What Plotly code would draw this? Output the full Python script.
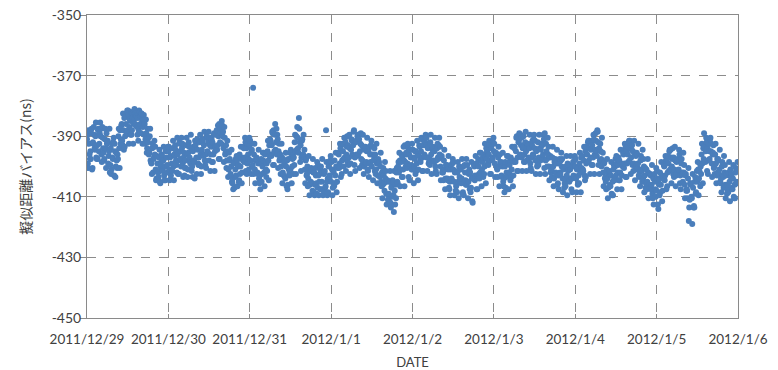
import pandas as pd
import plotly.graph_objects as go

# Pseudo-range bias (ns): two interleaved 15-minute sample streams per day
# ("_a" on the quarter hour, "_b" offset by 7.5 minutes)
bias_1229_a = [
    -391, -399, -388, -396, -395, -389, -401, -392, -387, -394, -390, -397,
    -393, -388, -395, -389, -390, -396, -387, -394, -398, -391, -394, -389,
    -392, -399, -395, -402, -394, -401, -397, -392, -403, -395, -400, -398,
    -396, -390, -394, -388, -391, -386, -393, -388, -384, -390, -386, -389,
    -388, -383, -387, -385, -382, -388, -384, -386, -381, -386, -383, -387,
    -384, -388, -382, -386, -389, -385, -387, -383, -386, -391, -389, -394,
    -392, -396, -390, -398, -399, -394, -402, -397, -396, -401, -404, -399,
    -402, -397, -405, -400, -396, -401, -398, -403, -400, -395, -397, -402,
]
bias_1229_b = [
    -389.5, -400.5, -392.5, -397.5, -397.5, -387.5, -400.5, -392.5, -389.5, -394.5, -385.5, -397.5,
    -397.5, -387.5, -392.5, -385.5, -387.5, -398.5, -390.5, -395.5, -397.5, -387.5, -400.5, -392.5,
    -391.5, -396.5, -387.5, -399.5, -402.5, -392.5, -397.5, -390.5, -392.5, -403.5, -395.5, -400.5,
    -397.5, -387.5, -400.5, -392.5, -386.5, -391.5, -382.5, -394.5, -393.5, -383.5, -388.5, -381.5,
    -381.5, -392.5, -384.5, -389.5, -389.5, -382.5, -392.5, -384.5, -382.5, -386.5, -383.5, -389.5,
    -391.5, -381.5, -386.5, -383.5, -382.5, -392.5, -384.5, -389.5, -392.5, -384.5, -395.5, -387.5,
    -390.5, -395.5, -387.5, -398.5, -402.5, -392.5, -397.5, -391.5, -393.5, -404.5, -396.5, -401.5,
    -403.5, -394.5, -405.5, -398.5, -396.5, -401.5, -393.5, -404.5, -404.5, -394.5, -399.5, -393.5,
]
bias_1230_a = [
    -395, -401, -397, -403, -399, -394, -400, -396, -393, -398, -402, -396,
    -398, -392, -395, -400, -394, -399, -397, -403, -398, -393, -396, -401,
    -392, -397, -399, -394, -400, -395, -398, -404, -393, -397, -391, -399,
    -397, -392, -396, -400, -391, -396, -393, -398, -396, -390, -395, -392,
    -398, -393, -396, -391, -392, -396, -389, -395, -394, -388, -393, -390,
    -386, -392, -389, -385, -390, -394, -387, -396, -393, -398, -395, -401,
    -398, -403, -400, -405, -404, -399, -407, -401, -403, -398, -400, -405,
    -396, -400, -397, -402, -398, -394, -397, -392, -394, -399, -396, -401,
]
bias_1230_b = [
    -393.5, -404.5, -396.5, -401.5, -401.5, -391.5, -404.5, -396.5, -394.5, -399.5, -390.5, -402.5,
    -402.5, -392.5, -397.5, -390.5, -392.5, -403.5, -395.5, -400.5, -400.5, -390.5, -403.5, -395.5,
    -393.5, -398.5, -389.5, -401.5, -403.5, -393.5, -398.5, -391.5, -391.5, -402.5, -394.5, -399.5,
    -399.5, -389.5, -402.5, -394.5, -391.5, -396.5, -388.5, -399.5, -400.5, -390.5, -395.5, -388.5,
    -390.5, -401.5, -393.5, -398.5, -398.5, -389.5, -401.5, -393.5, -389.5, -394.5, -386.5, -397.5,
    -397.5, -387.5, -392.5, -386.5, -388.5, -398.5, -390.5, -395.5, -400.5, -391.5, -403.5, -395.5,
    -397.5, -402.5, -394.5, -405.5, -407.5, -398.5, -403.5, -397.5, -396.5, -406.5, -399.5, -404.5,
    -402.5, -393.5, -405.5, -397.5, -393.5, -398.5, -390.5, -401.5, -402.5, -392.5, -397.5, -390.5,
]
bias_1231_a = [
    -393, -398, -395, -400, -374, -396, -401, -398, -397, -402, -399, -404,
    -403, -399, -405, -400, -398, -402, -396, -401, -399, -395, -398, -393,
    -391, -396, -393, -389, -388, -395, -386, -392, -396, -391, -395, -398,
    -396, -400, -397, -402, -403, -399, -404, -400, -398, -406, -401, -403,
    -401, -397, -400, -396, -397, -392, -395, -390, -387, -394, -384, -392,
    -393, -397, -391, -396, -397, -401, -398, -403, -400, -404, -401, -406,
    -405, -401, -408, -402, -402, -406, -403, -409, -407, -403, -405, -401,
    -400, -405, -402, -408, -402, -407, -388, -405, -404, -400, -403, -398,
]
bias_1231_b = [
    -391.5, -402.5, -394.5, -399.5, -402.5, -392.5, -405.5, -397.5, -397.5, -402.5, -394.5, -405.5,
    -407.5, -397.5, -402.5, -395.5, -395.5, -406.5, -398.5, -403.5, -401.5, -391.5, -404.5, -396.5,
    -391.5, -396.5, -388.5, -399.5, -399.5, -389.5, -394.5, -387.5, -389.5, -400.5, -392.5, -397.5,
    -402.5, -392.5, -405.5, -397.5, -398.5, -403.5, -395.5, -406.5, -407.5, -397.5, -402.5, -395.5,
    -394.5, -405.5, -397.5, -402.5, -399.5, -389.5, -402.5, -394.5, -390.5, -395.5, -387.5, -398.5,
    -401.5, -391.5, -396.5, -389.5, -394.5, -405.5, -397.5, -402.5, -406.5, -396.5, -409.5, -401.5,
    -400.5, -405.5, -397.5, -408.5, -409.5, -400.5, -405.5, -398.5, -399.5, -409.5, -402.5, -407.5,
    -407.5, -397.5, -409.5, -402.5, -401.5, -406.5, -398.5, -409.5, -408.5, -398.5, -403.5, -396.5,
]
bias_0101_a = [
    -405, -401, -407, -402, -398, -403, -400, -405, -400, -396, -399, -394,
    -393, -398, -395, -400, -397, -392, -396, -390, -393, -397, -394, -399,
    -391, -396, -393, -388, -397, -392, -396, -390, -396, -391, -395, -389,
    -393, -398, -394, -400, -394, -399, -395, -401, -395, -399, -396, -393,
    -400, -396, -398, -394, -396, -401, -399, -403, -399, -403, -400, -405,
    -402, -406, -403, -408, -404, -409, -405, -411, -409, -405, -412, -407,
    -410, -405, -415, -408, -406, -402, -405, -400, -402, -398, -401, -396,
    -397, -401, -398, -393, -400, -396, -399, -394, -396, -400, -397, -401,
]
bias_0101_b = [
    -398.5, -409.5, -401.5, -406.5, -405.5, -395.5, -408.5, -400.5, -395.5, -400.5, -392.5, -403.5,
    -402.5, -392.5, -397.5, -390.5, -390.5, -401.5, -393.5, -398.5, -399.5, -389.5, -402.5, -394.5,
    -391.5, -396.5, -388.5, -399.5, -401.5, -391.5, -396.5, -389.5, -389.5, -400.5, -392.5, -397.5,
    -399.5, -389.5, -402.5, -394.5, -393.5, -398.5, -390.5, -401.5, -403.5, -393.5, -398.5, -391.5,
    -393.5, -404.5, -396.5, -401.5, -402.5, -392.5, -405.5, -397.5, -398.5, -403.5, -395.5, -406.5,
    -410.5, -400.5, -405.5, -398.5, -401.5, -412.5, -404.5, -409.5, -411.5, -401.5, -413.5, -406.5,
    -404.5, -409.5, -401.5, -412.5, -410.5, -400.5, -405.5, -398.5, -395.5, -406.5, -398.5, -403.5,
    -403.5, -393.5, -406.5, -398.5, -395.5, -400.5, -392.5, -403.5, -404.5, -394.5, -399.5, -392.5,
]
bias_0102_a = [
    -401, -397, -400, -395, -395, -399, -396, -401, -393, -398, -395, -391,
    -397, -393, -396, -392, -393, -397, -394, -399, -397, -392, -396, -394,
    -394, -398, -395, -400, -398, -394, -397, -393, -396, -400, -397, -402,
    -402, -398, -401, -404, -400, -404, -401, -407, -405, -401, -404, -399,
    -401, -405, -402, -408, -406, -402, -405, -400, -405, -401, -404, -409,
    -400, -405, -402, -406, -406, -402, -405, -401, -402, -407, -404, -412,
    -404, -400, -403, -399, -399, -403, -400, -404, -402, -398, -401, -397,
    -396, -400, -397, -394, -395, -399, -396, -393, -398, -394, -397, -392,
]
bias_0102_b = [
    -394.5, -405.5, -397.5, -402.5, -401.5, -391.5, -404.5, -396.5, -393.5, -398.5, -390.5, -401.5,
    -401.5, -391.5, -396.5, -389.5, -390.5, -401.5, -393.5, -398.5, -399.5, -389.5, -402.5, -394.5,
    -393.5, -398.5, -390.5, -401.5, -402.5, -392.5, -397.5, -390.5, -393.5, -404.5, -396.5, -401.5,
    -404.5, -394.5, -407.5, -399.5, -399.5, -404.5, -396.5, -407.5, -409.5, -399.5, -404.5, -397.5,
    -398.5, -409.5, -401.5, -406.5, -408.5, -398.5, -410.5, -403.5, -400.5, -405.5, -397.5, -408.5,
    -409.5, -399.5, -404.5, -397.5, -399.5, -410.5, -402.5, -407.5, -408.5, -398.5, -411.5, -403.5,
    -399.5, -404.5, -396.5, -407.5, -407.5, -397.5, -402.5, -395.5, -395.5, -406.5, -398.5, -403.5,
    -402.5, -392.5, -405.5, -397.5, -394.5, -399.5, -391.5, -402.5, -402.5, -392.5, -397.5, -390.5,
]
bias_0103_a = [
    -395, -399, -396, -400, -401, -397, -400, -396, -399, -403, -400, -405,
    -404, -400, -407, -402, -403, -399, -402, -398, -397, -401, -398, -403,
    -394, -398, -395, -390, -397, -392, -389, -396, -393, -397, -394, -390,
    -396, -392, -395, -398, -393, -397, -394, -399, -397, -393, -396, -391,
    -394, -398, -395, -400, -392, -397, -394, -398, -397, -393, -396, -391,
    -389, -398, -395, -400, -396, -400, -397, -402, -401, -397, -400, -404,
    -398, -402, -399, -406, -403, -399, -402, -398, -400, -404, -401, -407,
    -404, -400, -403, -399, -400, -405, -401, -404, -404, -400, -403, -398,
]
bias_0103_b = [
    -392.5, -403.5, -395.5, -400.5, -403.5, -393.5, -406.5, -398.5, -398.5, -403.5, -395.5, -406.5,
    -408.5, -398.5, -403.5, -396.5, -396.5, -407.5, -399.5, -404.5, -403.5, -393.5, -406.5, -398.5,
    -393.5, -398.5, -390.5, -401.5, -401.5, -391.5, -396.5, -389.5, -390.5, -401.5, -393.5, -398.5,
    -398.5, -388.5, -401.5, -393.5, -392.5, -397.5, -389.5, -400.5, -401.5, -391.5, -396.5, -389.5,
    -391.5, -402.5, -394.5, -399.5, -399.5, -389.5, -402.5, -394.5, -392.5, -397.5, -389.5, -400.5,
    -402.5, -392.5, -397.5, -390.5, -393.5, -404.5, -396.5, -401.5, -403.5, -393.5, -406.5, -398.5,
    -397.5, -402.5, -394.5, -405.5, -407.5, -397.5, -402.5, -395.5, -397.5, -408.5, -400.5, -405.5,
    -406.5, -396.5, -409.5, -401.5, -399.5, -404.5, -396.5, -407.5, -408.5, -398.5, -403.5, -396.5,
]
bias_0104_a = [
    -400, -404, -401, -406, -403, -399, -402, -397, -397, -401, -398, -403,
    -395, -399, -396, -392, -398, -394, -397, -392, -393, -397, -391, -396,
    -389, -395, -388, -392, -394, -398, -395, -400, -398, -402, -399, -404,
    -405, -401, -404, -407, -402, -406, -403, -409, -405, -401, -404, -400,
    -403, -399, -402, -397, -398, -402, -399, -403, -400, -396, -399, -394,
    -395, -399, -396, -392, -398, -394, -397, -393, -395, -399, -396, -401,
    -400, -396, -399, -403, -402, -398, -401, -405, -404, -400, -403, -407,
    -401, -405, -402, -406, -407, -403, -406, -409, -404, -408, -405, -410,
]
bias_0104_b = [
    -397.5, -408.5, -400.5, -405.5, -405.5, -395.5, -408.5, -400.5, -396.5, -401.5, -393.5, -404.5,
    -403.5, -393.5, -398.5, -391.5, -391.5, -402.5, -394.5, -399.5, -399.5, -389.5, -402.5, -394.5,
    -391.5, -396.5, -388.5, -399.5, -402.5, -392.5, -397.5, -390.5, -395.5, -406.5, -398.5, -403.5,
    -407.5, -397.5, -410.5, -402.5, -401.5, -406.5, -398.5, -409.5, -409.5, -399.5, -404.5, -397.5,
    -396.5, -407.5, -399.5, -404.5, -404.5, -394.5, -407.5, -399.5, -395.5, -400.5, -392.5, -403.5,
    -403.5, -393.5, -398.5, -391.5, -391.5, -402.5, -394.5, -399.5, -401.5, -391.5, -404.5, -396.5,
    -395.5, -400.5, -392.5, -403.5, -406.5, -396.5, -401.5, -394.5, -397.5, -408.5, -400.5, -405.5,
    -407.5, -397.5, -410.5, -402.5, -402.5, -407.5, -399.5, -410.5, -412.5, -402.5, -407.5, -400.5,
]
bias_0105_a = [
    -408, -404, -414, -406, -402, -406, -403, -408, -404, -400, -403, -398,
    -398, -402, -399, -395, -401, -397, -400, -394, -397, -401, -398, -403,
    -402, -398, -401, -396, -403, -399, -402, -405, -402, -406, -403, -408,
    -408, -404, -418, -411, -406, -410, -419, -407, -413, -405, -409, -404,
    -405, -401, -404, -399, -400, -396, -399, -394, -389, -398, -395, -392,
    -394, -398, -395, -391, -395, -399, -396, -393, -400, -396, -399, -403,
    -402, -398, -401, -405, -404, -400, -403, -407, -402, -406, -403, -409,
    -406, -402, -405, -401, -403, -407, -404, -410, -406, -402, -405, -401,
]
bias_0105_b = [
    -401.5, -412.5, -404.5, -409.5, -408.5, -398.5, -411.5, -403.5, -399.5, -404.5, -396.5, -407.5,
    -406.5, -396.5, -401.5, -394.5, -394.5, -405.5, -397.5, -402.5, -403.5, -393.5, -406.5, -398.5,
    -397.5, -402.5, -394.5, -405.5, -407.5, -397.5, -402.5, -395.5, -399.5, -410.5, -402.5, -407.5,
    -410.5, -400.5, -413.5, -405.5, -405.5, -410.5, -402.5, -413.5, -413.5, -403.5, -408.5, -401.5,
    -398.5, -409.5, -401.5, -406.5, -402.5, -392.5, -405.5, -397.5, -393.5, -398.5, -390.5, -401.5,
    -402.5, -392.5, -397.5, -390.5, -392.5, -403.5, -395.5, -400.5, -402.5, -392.5, -405.5, -397.5,
    -397.5, -402.5, -394.5, -405.5, -408.5, -398.5, -403.5, -396.5, -399.5, -410.5, -402.5, -407.5,
    -408.5, -398.5, -411.5, -403.5, -402.5, -407.5, -399.5, -410.5, -410.5, -400.5, -405.5, -398.5,
]

day_labels = ["2011/12/29", "2011/12/30", "2011/12/31", "2012/1/1",
              "2012/1/2", "2012/1/3", "2012/1/4", "2012/1/5", "2012/1/6"]
y_ticks = [-450, -430, -410, -390, -370, -350]
y_tick_text = ["-450", "-430", "-410", "-390", "-370", "-350"]

stream_a = (bias_1229_a + bias_1230_a + bias_1231_a + bias_0101_a +
            bias_0102_a + bias_0103_a + bias_0104_a + bias_0105_a)
stream_b = (bias_1229_b + bias_1230_b + bias_1231_b + bias_0101_b +
            bias_0102_b + bias_0103_b + bias_0104_b + bias_0105_b)
times_a = pd.date_range("2011-12-29 00:00", periods=len(stream_a), freq="15min")
times_b = pd.date_range("2011-12-29 00:07:30", periods=len(stream_b), freq="15min")

df = pd.DataFrame({"time": list(times_a) + list(times_b),
                   "bias": stream_a + stream_b}).sort_values("time")
day_ticks = pd.date_range("2011-12-29", periods=len(day_labels), freq="D")

grid = "#8c8c8c"
axis_line = "#8a8a8a"
label_col = "#404040"
font_main = "Lato, 'Noto Sans CJK JP', sans-serif"

fig = go.Figure()
fig.add_trace(go.Scatter(
    x=df["time"], y=df["bias"], mode="markers",
    marker=dict(color="#4a7ebb", size=6, line=dict(width=0)),
    showlegend=False, hoverinfo="x+y",
))

fig.update_layout(
    width=778, height=370,
    margin=dict(l=87, r=40, t=15, b=52),
    paper_bgcolor="white", plot_bgcolor="white",
    font=dict(family=font_main, size=13, color=label_col),
)
fig.update_xaxes(
    range=[day_ticks[0], day_ticks[-1]],
    tickmode="array", tickvals=day_ticks, ticktext=day_labels,
    ticks="inside", ticklen=4, tickcolor=axis_line,
    showline=True, linecolor=axis_line, linewidth=1, mirror=True,
    showgrid=True, gridcolor=grid, griddash="dash", gridwidth=1,
    zeroline=False, automargin=False, ticklabelstandoff=9,
    tickfont=dict(size=13.5, color=label_col),
    title=dict(text="DATE", font=dict(size=13, color=label_col), standoff=12),
)
fig.update_yaxes(
    range=[-450, -350],
    tickmode="array", tickvals=y_ticks, ticktext=y_tick_text,
    ticks="outside", ticklen=6, tickcolor=axis_line,
    showline=True, linecolor=axis_line, linewidth=1, mirror=True,
    showgrid=True, gridcolor=grid, griddash="dash", gridwidth=1,
    zeroline=False, automargin=False, ticklabelstandoff=-4,
    tickfont=dict(size=14, color=label_col),
    title=dict(text="擬似距離バイアス(ns)",
               font=dict(family="'Noto Sans CJK JP', sans-serif", size=14, color=label_col),
               standoff=16),
)

fig.write_html("out.html")
